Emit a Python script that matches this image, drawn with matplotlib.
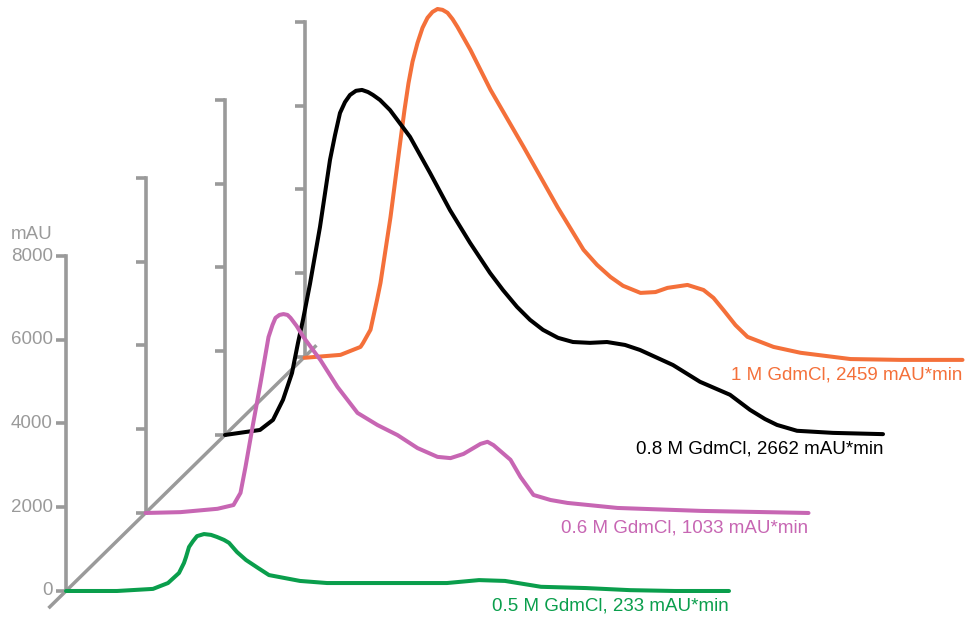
import matplotlib
matplotlib.use("Agg")
import matplotlib.pyplot as plt
import numpy as np

plt.rcParams['font.family'] = ['Liberation Sans', 'DejaVu Sans']

# elution traces, time relative to each trace's own origin, absorbance in mAU
green_t = [0, 5.1, 8.7, 10.2, 11.3, 11.8, 12.0, 12.3, 12.7, 13.1, 13.8, 14.5, 15.1, 15.8, 16.3,
           17.1, 18.0, 19.2, 20.3, 23.4, 26.1, 30.5, 34.1, 38.1, 41.3, 43.9, 47.5, 52.0, 56.4, 60.9, 66.3]
green_y = [0, 0, 50, 190, 430, 670, 810, 1050, 1190, 1310, 1360, 1340, 1290, 1220, 1150,
           930, 740, 550, 380, 240, 190, 190, 190, 190, 260, 240, 100, 70, 20, 0, 0]

pink_t = [0, 3.5, 7.2, 8.8, 9.5, 10.0, 10.7, 11.5, 12.3, 12.7, 13.0, 13.4, 13.8, 14.2, 14.5, 15.1,
          15.8, 17.5, 19.2, 21.2, 23.2, 25.2, 27.2, 29.2, 30.5, 31.8, 33.5, 34.2, 34.8, 36.5, 37.5,
          38.8, 40.5, 42.2, 47.2, 55.5, 66.3]
pink_y = [0, 20, 100, 190, 480, 1100, 2050, 3100, 4200, 4490, 4660, 4730, 4750, 4730, 4660, 4470,
          4200, 3650, 3010, 2390, 2100, 1860, 1550, 1340, 1310, 1410, 1650, 1700, 1620, 1270, 860,
          430, 310, 240, 120, 50, 0]

black_t = [0, 3.5, 4.8, 5.8, 6.7, 7.3, 7.8, 8.5, 9.5, 10.5, 11.0, 11.5, 12.0, 12.5, 13.1, 13.7,
           14.3, 14.8, 15.5, 16.5, 18.5, 20.5, 22.5, 24.5, 26.5, 27.8, 29.2, 30.5, 31.8, 33.3, 34.8,
           36.5, 38.2, 40.0, 41.5, 44.8, 47.5, 50.5, 52.5, 54.0, 55.2, 57.2, 60.8, 65.8]
black_y = [0, 120, 360, 840, 1480, 2200, 2750, 3610, 4970, 6570, 7160, 7690, 7950, 8120, 8220, 8240,
           8190, 8120, 8000, 7760, 7120, 6260, 5370, 4590, 3870, 3460, 3060, 2750, 2510, 2320, 2220,
           2200, 2220, 2150, 2030, 1670, 1270, 960, 600, 380, 240, 100, 50, 20]

orange_t = [0, 3.6, 5.6, 5.85, 6.6, 7.25, 7.6, 8.6, 9.6, 10.0, 10.4, 10.8, 11.3, 11.8, 12.3, 12.8,
            13.3, 13.8, 14.3, 14.8, 15.3, 16.6, 18.6, 21.9, 25.3, 27.9, 29.25, 30.6, 31.85, 33.6,
            35.1, 36.3, 38.3, 39.9, 40.9, 41.9, 43.1, 44.3, 46.9, 49.6, 54.6, 59.6, 65.8]
orange_y = [-20, 50, 240, 330, 650, 1360, 1770, 3340, 5180, 5900, 6540, 7050, 7500, 7860, 8100, 8240,
            8310, 8290, 8220, 8070, 7880, 7330, 6380, 5020, 3580, 2560, 2200, 1910, 1700, 1530,
            1550, 1650, 1720, 1600, 1410, 1120, 760, 480, 240, 100, -50, -70, -70]

labels = ["0.5 M GdmCl, 233 mAU*min", "0.6 M GdmCl, 1033 mAU*min",
          "0.8 M GdmCl, 2662 mAU*min", "1 M GdmCl, 2459 mAU*min"]
colors = ["#0a9e4c", "#c766b3", "#000000", "#f4703a"]
traces = [(green_t, green_y), (pink_t, pink_y), (black_t, black_y), (orange_t, orange_y)]

y_ticks = [0, 2000, 4000, 6000, 8000]
y_max = 8000

# offset between successive traces (time units, mAU)
DX, DY = 7.95, 1863
TICK = 1.0
gray = "#9a9a9a"

fig = plt.figure(figsize=(9.66, 6.19), dpi=100)
ax = fig.add_axes([0, 0, 1, 1])
ax.set_xlim(-6.6, 90.0)
ax.set_ylim(-669, 14114)
ax.axis("off")

# depth axis through the trace origins
n = len(traces)
ax.plot([-0.22 * DX, (n - 1 + 0.15) * DX], [-0.22 * DY, (n - 1 + 0.15) * DY],
        color=gray, lw=2.5, solid_capstyle="butt", zorder=1)

for k in range(n):
    ox, oy = k * DX, k * DY
    ax.plot([ox, ox], [oy, oy + y_max], color=gray, lw=2.6, solid_capstyle="projecting", zorder=1)
    for v in y_ticks:
        ax.plot([ox - TICK, ox], [oy + v, oy + v], color=gray, lw=2.6,
                solid_capstyle="butt", zorder=1)
        if k == 0:
            ax.text(ox - TICK - 0.3, oy + v, str(v), ha="right", va="center",
                    fontsize=13.5, color=gray)
    if k == 0:
        ax.text(ox - TICK - 0.3, oy + y_max + 520, "mAU", ha="right", va="center",
                fontsize=13.5, color=gray)

# back traces first so the front ones sit on top
for k in reversed(range(n)):
    t, y = traces[k]
    xs = np.array(t) + k * DX
    ys = np.array(y) + k * DY
    ax.plot(xs, ys, color=colors[k], lw=2.9, solid_joinstyle="round",
            solid_capstyle="round", zorder=2 + n - k)
    ax.annotate(labels[k], (xs[-1], ys[-1]), xytext=(0, -11), textcoords="offset points",
                ha="right", va="center", fontsize=13.5, color=colors[k])

fig.savefig("out.png", dpi=100)
